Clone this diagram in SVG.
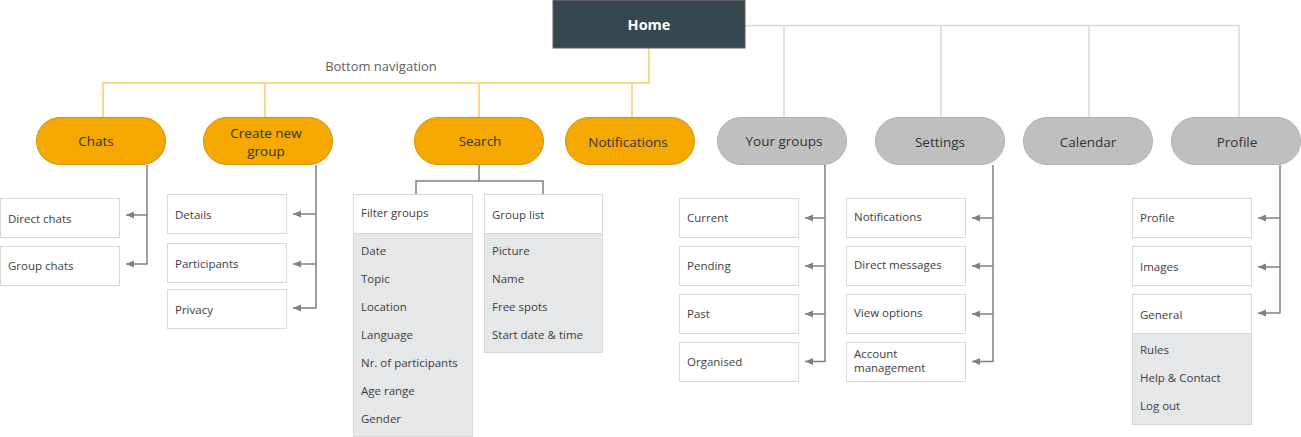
<svg xmlns="http://www.w3.org/2000/svg" width="1301" height="437" viewBox="0 0 1301 437">
<style>
text{font-family:"Open Sans","Noto Sans","Liberation Sans",sans-serif;fill:#404040}
.pt{font-size:13.5px;text-anchor:middle;fill:#333}
.bt{font-size:11.5px}
.po{fill:#F4A800;stroke:#D9900A;stroke-width:1}
.pg{fill:#BFBFBF;stroke:#B0B0B0;stroke-width:1}
.bx{fill:#fff;stroke:#D9D9D9;stroke-width:1}
.ls{fill:#E6E7E9;stroke:#D9D9D9;stroke-width:1}
.cn{fill:none;stroke:#808080;stroke-width:1.5}
.ar{fill:none;stroke:#808080;stroke-width:1.5;marker-end:url(#ah)}
.or{fill:none;stroke:#FCCB66;stroke-width:1.5}
.gl{fill:none;stroke:#D9D9D9;stroke-width:1.5}
</style>
<defs>
<marker id="ah" markerUnits="userSpaceOnUse" markerWidth="9" markerHeight="8" refX="8" refY="4" orient="auto">
<path d="M0,0.5 L8,4 L0,7.5 z" fill="#808080"/>
</marker>
</defs>
<g id="connectors">
<path class="or" d="M649,48 V83 H103 V117 M265,83 V117 M479,83 V117 M632,83 V117"/>
<path class="gl" d="M745,25.5 H1239 V117 M784,25.5 V117 M941,25.5 V117 M1089,25.5 V117"/>
<path class="cn" d="M147,165 V264.5 M316,165 V308.5 M479,165 V181 M416,194 V181 H543 V194 M825,165 V362 M993,165 V362 M1280,165 V313.5"/>
<path class="ar" d="M147,215 H126"/>
<path class="ar" d="M147,264 H126"/>
<path class="ar" d="M316,214 H293"/>
<path class="ar" d="M316,264 H293"/>
<path class="ar" d="M316,308 H293"/>
<path class="ar" d="M825,218 H805"/>
<path class="ar" d="M825,266 H805"/>
<path class="ar" d="M825,314 H805"/>
<path class="ar" d="M825,361.5 H805"/>
<path class="ar" d="M993,218 H972"/>
<path class="ar" d="M993,266 H972"/>
<path class="ar" d="M993,314 H972"/>
<path class="ar" d="M993,361.5 H972"/>
<path class="ar" d="M1280,218 H1258"/>
<path class="ar" d="M1280,267 H1258"/>
<path class="ar" d="M1280,313 H1258"/>
</g>
<text x="381" y="71" style="font-size:13px;text-anchor:middle;fill:#606060">Bottom navigation</text>
<g id="home">
<rect x="553" y="0.5" width="192" height="47.5" fill="#36474F" stroke="#606060" stroke-width="1"/>
<text x="649" y="30" style="font-size:14.5px;font-weight:bold;text-anchor:middle;fill:#fff">Home</text>
</g>
<g id="chats"><rect class="po" x="36.5" y="117.5" width="129" height="47" rx="23.5"/><text class="pt" x="96" y="145.5">Chats</text></g>
<g id="create-new-group"><rect class="po" x="203.5" y="117.5" width="129" height="47" rx="23.5"/><text class="pt" x="266" y="138">Create new</text><text class="pt" x="266" y="156">group</text></g>
<g id="search"><rect class="po" x="414.5" y="117.5" width="129" height="47" rx="23.5"/><text class="pt" x="480" y="146">Search</text></g>
<g id="notifications"><rect class="po" x="565.5" y="117.5" width="129" height="47" rx="23.5"/><text class="pt" x="628" y="147">Notifications</text></g>
<g id="your-groups"><rect class="pg" x="717.5" y="117.5" width="129" height="47" rx="23.5"/><text class="pt" x="784" y="146">Your groups</text></g>
<g id="settings"><rect class="pg" x="875.5" y="117.5" width="129" height="47" rx="23.5"/><text class="pt" x="940" y="147">Settings</text></g>
<g id="calendar"><rect class="pg" x="1023.5" y="117.5" width="129" height="47" rx="23.5"/><text class="pt" x="1088" y="147">Calendar</text></g>
<g id="profile"><rect class="pg" x="1171.5" y="117.5" width="129" height="47" rx="23.5"/><text class="pt" x="1237" y="147">Profile</text></g>

<g id="direct-chats"><rect class="bx" x="0.5" y="198.5" width="119" height="39"/><text class="bt" x="8" y="222.5">Direct chats</text></g>
<g id="group-chats"><rect class="bx" x="0.5" y="246.5" width="119" height="39"/><text class="bt" x="8" y="270">Group chats</text></g>

<g id="details"><rect class="bx" x="167.5" y="194.5" width="119" height="39"/><text class="bt" x="175" y="219">Details</text></g>
<g id="participants"><rect class="bx" x="167.5" y="243.5" width="119" height="39"/><text class="bt" x="175" y="268">Participants</text></g>
<g id="privacy"><rect class="bx" x="167.5" y="289.5" width="119" height="39"/><text class="bt" x="175" y="314">Privacy</text></g>

<g id="filter-groups">
<rect class="ls" x="353.5" y="194.5" width="119" height="242"/>
<rect class="bx" x="353.5" y="194.5" width="119" height="39"/>
<text class="bt" x="361" y="217">Filter groups</text>
<text class="bt" x="361" y="255">Date</text>
<text class="bt" x="361" y="283">Topic</text>
<text class="bt" x="361" y="311">Location</text>
<text class="bt" x="361" y="339">Language</text>
<text class="bt" x="361" y="367">Nr. of participants</text>
<text class="bt" x="361" y="395">Age range</text>
<text class="bt" x="361" y="423">Gender</text>
</g>
<g id="group-list">
<rect class="ls" x="484.5" y="194.5" width="118" height="158"/>
<rect class="bx" x="484.5" y="194.5" width="118" height="39"/>
<text class="bt" x="492" y="219">Group list</text>
<text class="bt" x="492" y="255">Picture</text>
<text class="bt" x="492" y="283">Name</text>
<text class="bt" x="492" y="311">Free spots</text>
<text class="bt" x="492" y="339">Start date &amp; time</text>
</g>

<g id="current"><rect class="bx" x="679.5" y="198.5" width="119" height="39"/><text class="bt" x="687" y="222">Current</text></g>
<g id="pending"><rect class="bx" x="679.5" y="246.5" width="119" height="39"/><text class="bt" x="687" y="270">Pending</text></g>
<g id="past"><rect class="bx" x="679.5" y="294.5" width="119" height="39"/><text class="bt" x="687" y="318">Past</text></g>
<g id="organised"><rect class="bx" x="679.5" y="342.5" width="119" height="39"/><text class="bt" x="687" y="366">Organised</text></g>

<g id="settings-notifications"><rect class="bx" x="846.5" y="198.5" width="119" height="39"/><text class="bt" x="854" y="221">Notifications</text></g>
<g id="direct-messages"><rect class="bx" x="846.5" y="246.5" width="119" height="39"/><text class="bt" x="854" y="269">Direct messages</text></g>
<g id="view-options"><rect class="bx" x="846.5" y="294.5" width="119" height="39"/><text class="bt" x="854" y="317">View options</text></g>
<g id="account-management"><rect class="bx" x="846.5" y="342.5" width="119" height="39"/><text class="bt" x="854" y="358">Account</text><text class="bt" x="854" y="372">management</text></g>

<g id="profile-profile"><rect class="bx" x="1132.5" y="198.5" width="119" height="39"/><text class="bt" x="1140" y="222">Profile</text></g>
<g id="images"><rect class="bx" x="1132.5" y="246.5" width="119" height="39"/><text class="bt" x="1140" y="271">Images</text></g>
<g id="general">
<rect class="ls" x="1132.5" y="294.5" width="119" height="130"/>
<rect class="bx" x="1132.5" y="294.5" width="119" height="39"/>
<text class="bt" x="1140" y="319">General</text>
<text class="bt" x="1140" y="354">Rules</text>
<text class="bt" x="1140" y="382">Help &amp; Contact</text>
<text class="bt" x="1140" y="410">Log out</text>
</g>
</svg>
